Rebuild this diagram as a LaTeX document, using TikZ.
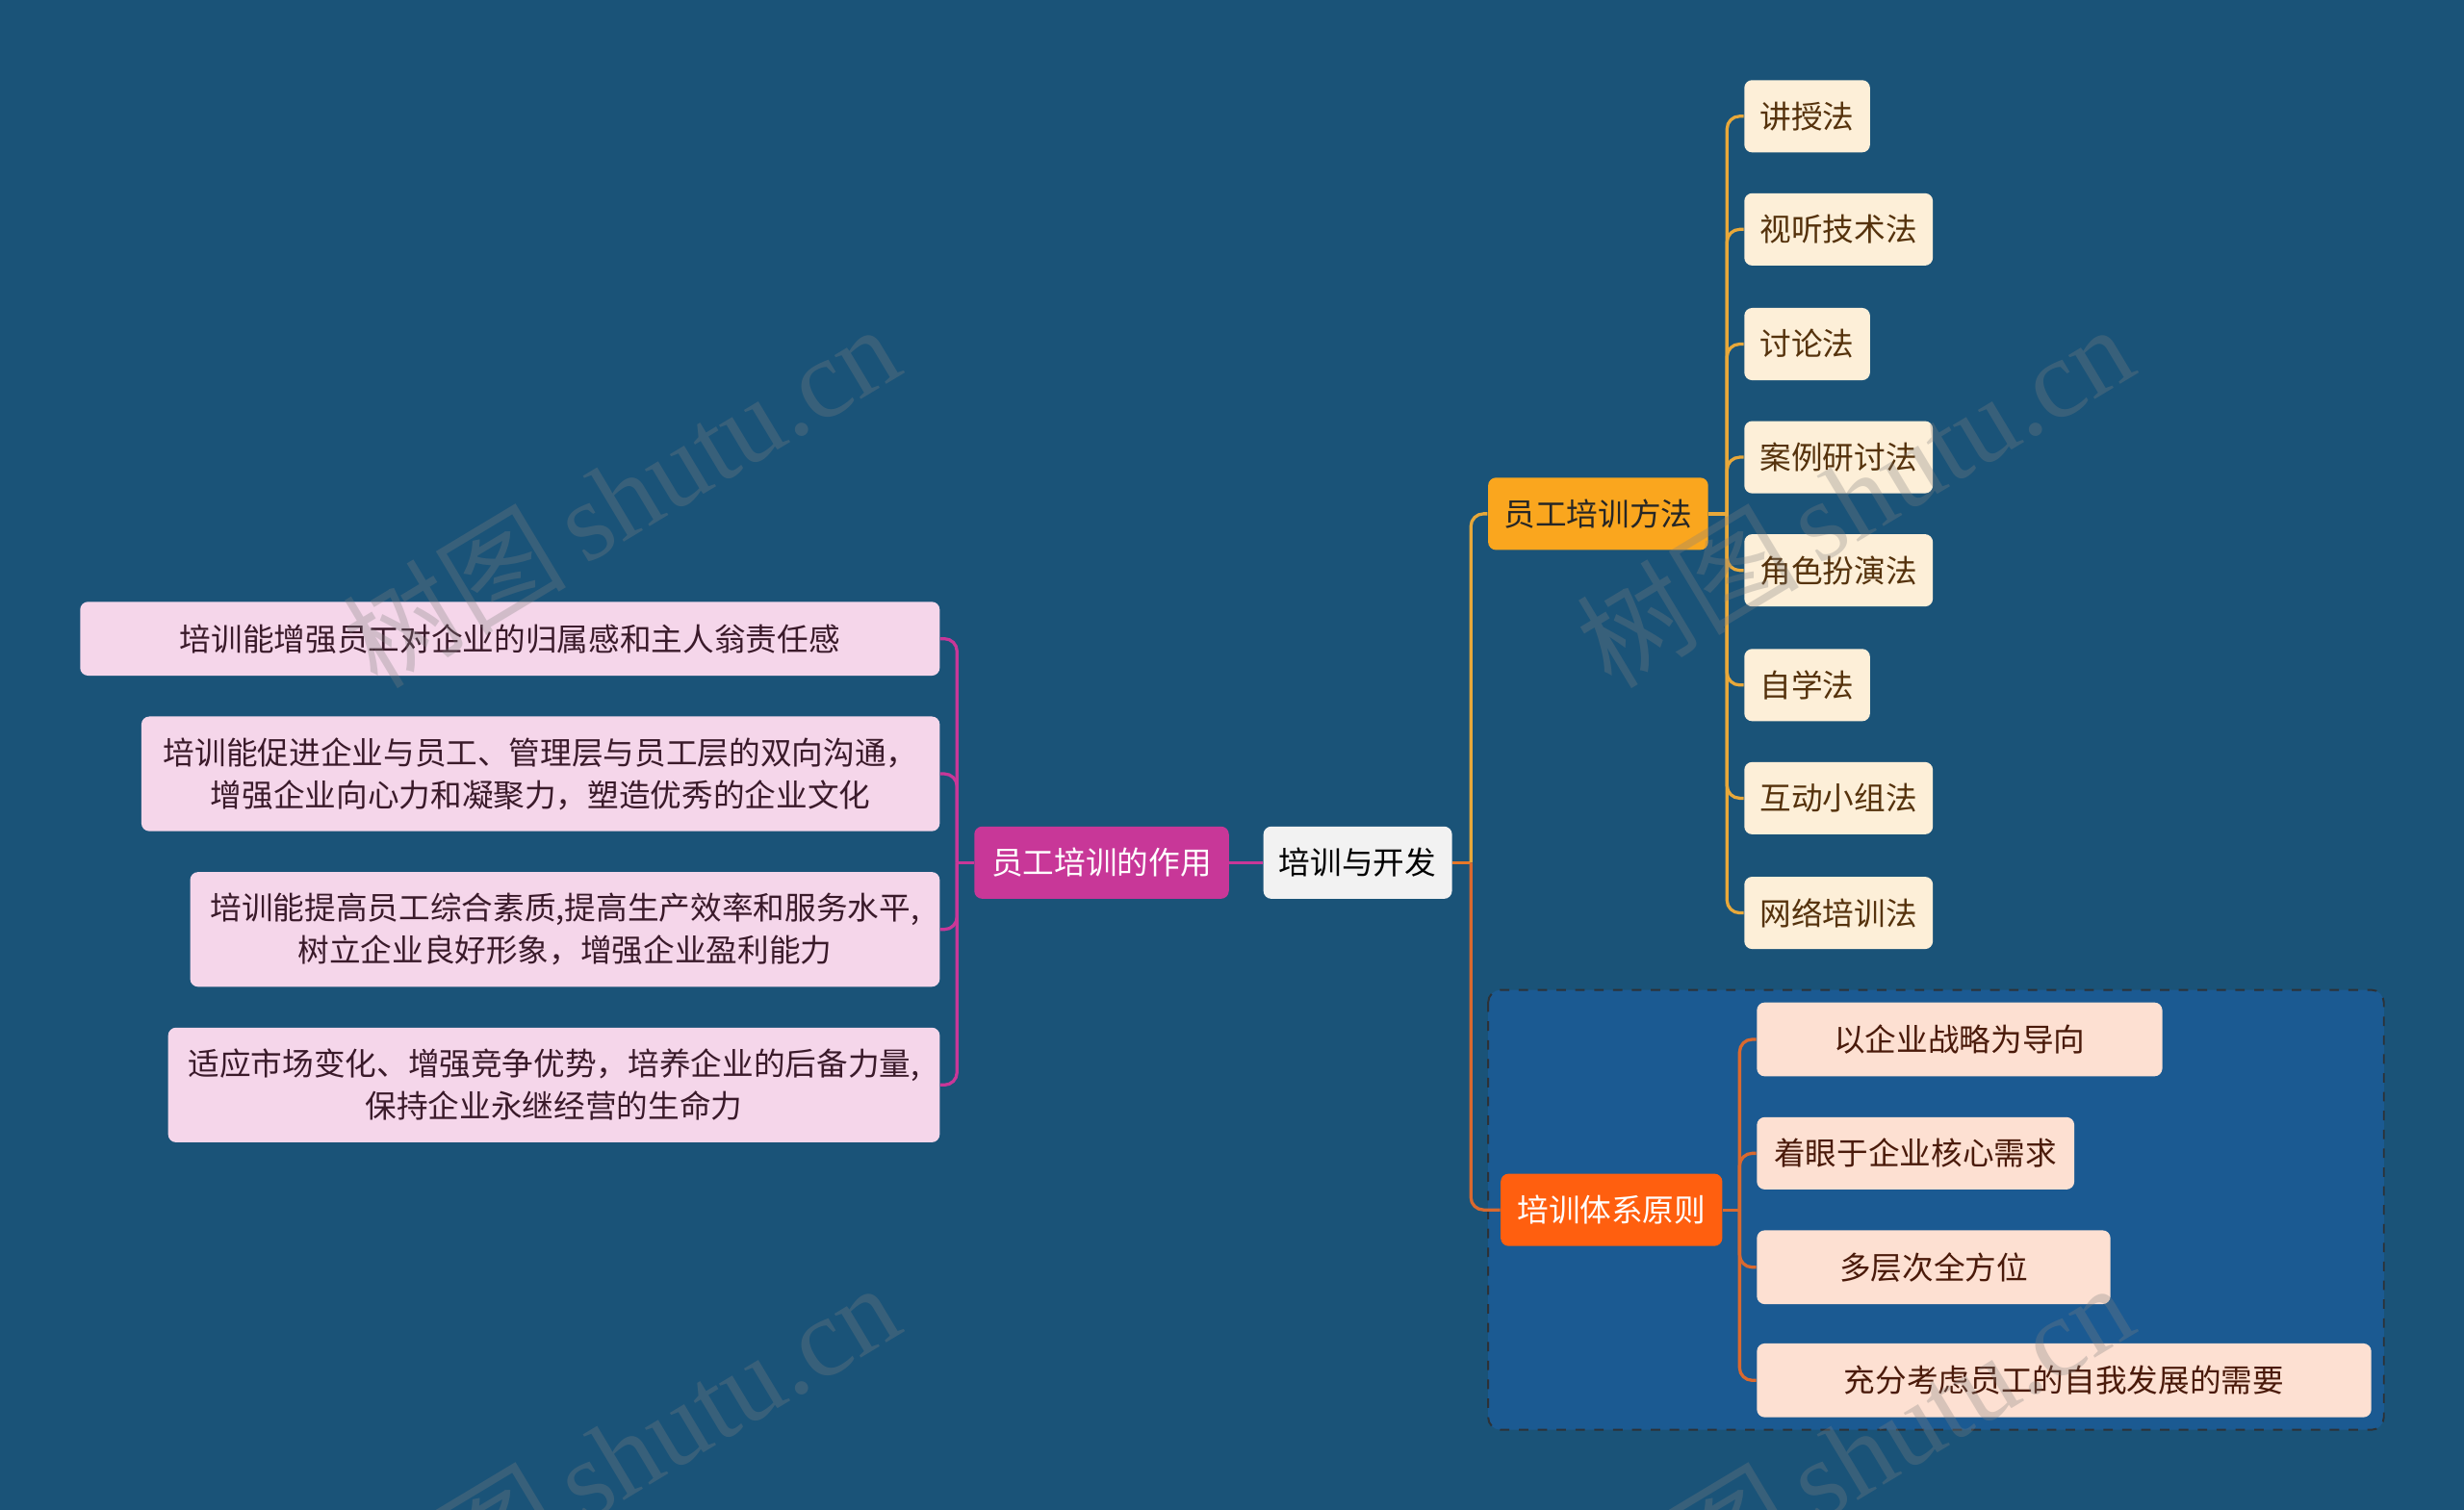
\documentclass[tikz,border=0pt]{standalone}
\usepackage{fontspec}
\setmainfont{Noto Sans CJK SC}
\newfontfamily\wmlatin{Liberation Serif}
\newfontfamily\wmcjk{Noto Sans CJK SC}
\definecolor{bgblue}{RGB}{26,83,120}
\definecolor{boxblue}{RGB}{27,90,146}
\definecolor{rootfill}{RGB}{242,242,242}
\definecolor{magenta1}{RGB}{200,55,152}
\definecolor{pinkfill}{RGB}{245,214,234}
\definecolor{pinktext}{RGB}{58,26,42}
\definecolor{goldfill}{RGB}{250,166,30}
\definecolor{goldline}{RGB}{232,168,58}
\definecolor{creamfill}{RGB}{253,239,216}
\definecolor{browntext}{RGB}{85,50,12}
\definecolor{redfill}{RGB}{255,95,15}
\definecolor{redline}{RGB}{217,105,47}
\definecolor{rootline}{RGB}{230,120,40}
\definecolor{peachfill}{RGB}{253,224,210}
\definecolor{peachtext}{RGB}{74,26,10}
\definecolor{dashgray}{RGB}{45,50,55}
\tikzset{
  nbox/.style={rounded corners=2.5pt, inner sep=0pt, minimum height=23pt,
    font=\fontsize{10pt}{13.5pt}\selectfont, align=center},
  rootbox/.style={nbox, fill=rootfill, text=black},
  zybox/.style={nbox, fill=magenta1, text=white},
  pinkbox/.style={nbox, fill=pinkfill, text=pinktext},
  fabox/.style={nbox, fill=goldfill, text=black!85},
  creambox/.style={nbox, fill=creamfill, text=browntext, minimum width=40pt},
  yzbox/.style={nbox, fill=redfill, text=white},
  peachbox/.style={nbox, fill=peachfill, text=peachtext},
  magline/.style={draw=magenta1, line width=1pt},
  goldln/.style={draw=goldline, line width=1pt},
  redln/.style={draw=redline, line width=1pt},
  rootln/.style={draw=rootline, line width=1pt},
  watermark/.style={text=gray, opacity=0.3, rotate=31, font=\fontsize{35.5pt}{35.5pt}\selectfont}
}
\begin{document}
\begin{tikzpicture}[x=0.5pt,y=-0.5pt]
\fill[bgblue] (0,0) rectangle (1568,961);
\useasboundingbox (0,0) rectangle (1568,961);

% dashed group box
\draw[fill=boxblue, draw=dashgray, dashed, line width=0.6pt, rounded corners=4pt] (947,630) rectangle (1517,910);

% nodes
\node[rootbox, minimum width=60pt] (root) at (864,549) {培训与开发};
\node[zybox, minimum width=81pt] (zy) at (701,549) {员工培训的作用};

\node[pinkbox, minimum width=273.5pt, minimum height=23.5pt] (L1) at (324.5,406.5) {培训能增强员工对企业的归属感和主人翁责任感};
\node[pinkbox, minimum width=254pt, minimum height=36.5pt] (L2) at (344,492.5) {培训能促进企业与员工、管理层与员工层的双向沟通，\\增强企业向心力和凝聚力，塑造优秀的企业文化};
\node[pinkbox, minimum width=238.5pt, minimum height=36.5pt] (L3) at (359.5,591.5) {培训能提高员工综合素质,提高生产效率和服务水平,\\树立企业良好形象，增强企业盈利能力};
\node[pinkbox, minimum width=245.5pt, minimum height=36.5pt] (L4) at (352.5,690.5) {适应市场变化、增强竞争优势，培养企业的后备力量,\\保持企业永继经营的生命力};

\node[fabox, minimum width=70pt] (fa) at (1017,327) {员工培训方法};
\node[creambox] (m1) at (1150,74) {讲授法};
\node[creambox, minimum width=60pt] (m2) at (1170,146) {视听技术法};
\node[creambox] (m3) at (1150,219) {讨论法};
\node[creambox, minimum width=60pt] (m4) at (1170,291) {案例研讨法};
\node[creambox, minimum width=60pt] (m5) at (1170,363) {角色扮演法};
\node[creambox] (m6) at (1150,436) {自学法};
\node[creambox, minimum width=60pt] (m7) at (1170,508) {互动小组法};
\node[creambox, minimum width=60pt] (m8) at (1170,581) {网络培训法};

\node[yzbox, minimum width=70.5pt] (yz) at (1025.5,770) {培训体系原则};
\node[peachbox, minimum width=129pt, minimum height=23.5pt] (p1) at (1247,661.5) {以企业战略为导向};
\node[peachbox, minimum width=101pt] (p2) at (1219,734) {着眼于企业核心需求};
\node[peachbox, minimum width=112.5pt, minimum height=23.5pt] (p3) at (1230.5,806.5) {多层次全方位};
\node[peachbox, minimum width=195.5pt, minimum height=23.5pt] (p4) at (1313.5,878.5) {充分考虑员工的自我发展的需要};

% junction coordinates
\coordinate (zyj) at (609,549);
\coordinate (rj) at (936,549);
\coordinate (faj) at (1099,327);
\coordinate (yzj) at (1107,770);

% connectors
\draw[magline] (root.west) -- (zy.east);
\draw[magline] (zy.west) -- (zyj);
\foreach \n in {L1,L2,L3,L4} \draw[magline, rounded corners=4pt] (zyj) |- (\n.east);

\draw[rootln] (root.east) -- (rj);
\draw[goldln, rounded corners=4pt] (rj) |- (fa.west);
\draw[redln, rounded corners=4pt] (rj) |- (yz.west);

\draw[goldln] (fa.east) -- (faj);
\foreach \n in {m1,m2,m3,m4,m5,m6,m7,m8} \draw[goldln, rounded corners=4pt] (faj) |- (\n.west);

\draw[redln] (yz.east) -- (yzj);
\foreach \n in {p1,p2,p3,p4} \draw[redln, rounded corners=4pt] (yzj) |- (\n.west);

% watermarks
\node[watermark] (w1) at (395,315) {\wmcjk 树图\,\wmlatin shutu.cn};
\node[watermark] (w2) at (1180,315) {\wmcjk 树图\,\wmlatin shutu.cn};
\node[watermark] (w3) at (395,925) {\wmcjk 树图\,\wmlatin shutu.cn};
\node[watermark] (w4) at (1180,925) {\wmcjk 树图\,\wmlatin shutu.cn};
\end{tikzpicture}
\end{document}
